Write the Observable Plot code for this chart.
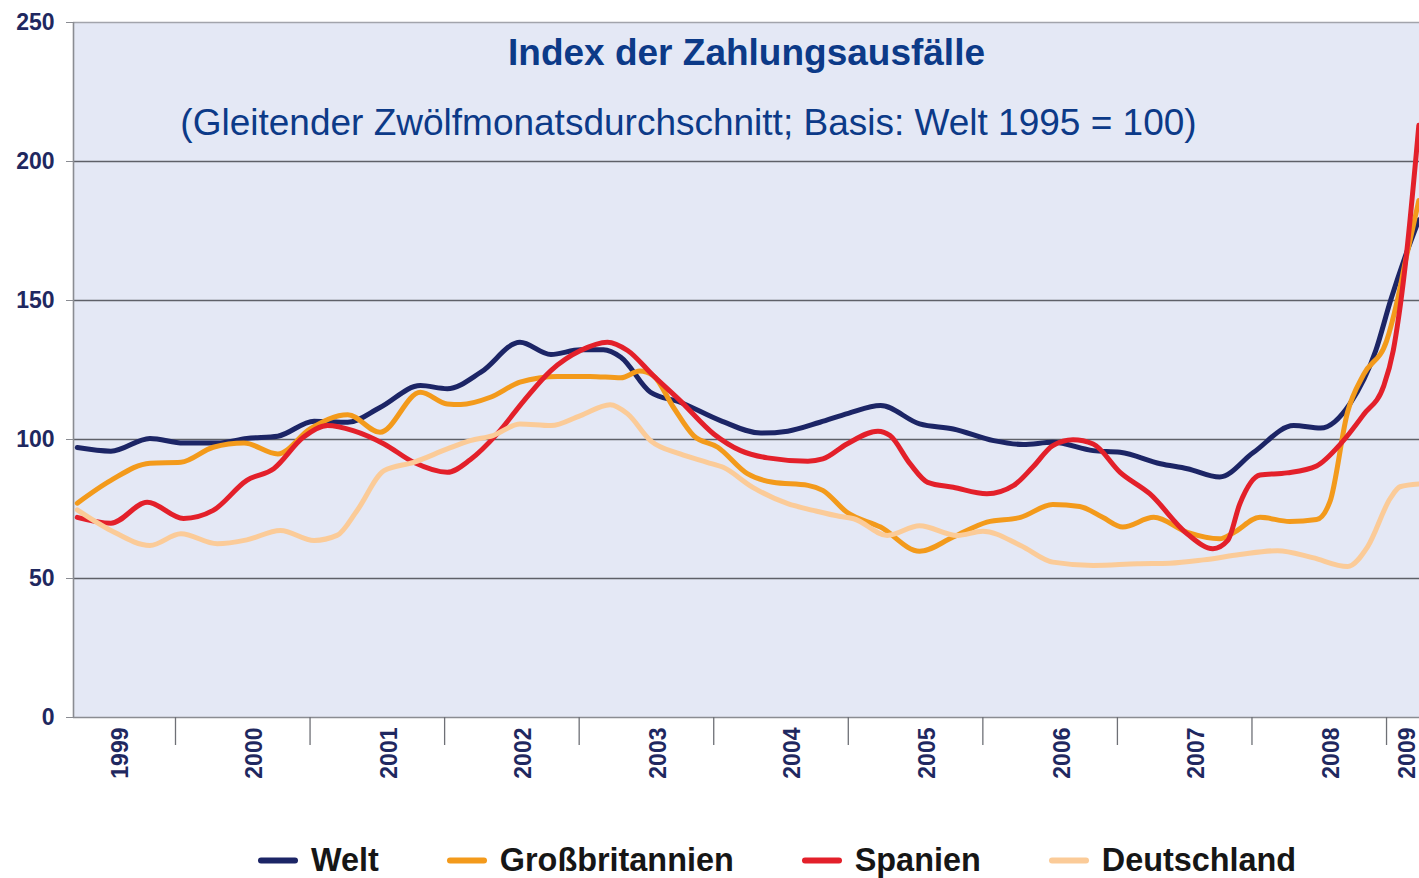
<!DOCTYPE html>
<html>
<head>
<meta charset="utf-8">
<script src="https://cdn.jsdelivr.net/npm/d3@7"></script>
<script src="https://cdn.jsdelivr.net/npm/@observablehq/plot@0.6"></script>
<style>
  html, body { margin: 0; padding: 0; background: #ffffff; }
  #chart { width: 1419px; }
  #legend { position: relative; width: 1419px; height: 78px; font-family: "Liberation Sans", Arial, sans-serif; }
  #legend .items { position: absolute; left: 258px; top: 60px; transform: translateY(-50%); display: flex; gap: 68px; }
  #legend .item { display: flex; align-items: center; gap: 13px; font-weight: bold; font-size: 32.4px; color: #161616; white-space: nowrap; }
  #legend .sw { width: 40px; height: 6px; border-radius: 3px; }
</style>
</head>
<body>
<div id="chart"></div>
<div id="legend"><div class="items"></div></div>
<script>
// ---- Data (decimal year, index value) ----
const welt = [[1999.27,97.1],[1999.52,95.8],[1999.81,100.4],[2000.06,98.7],[2000.31,98.7],[2000.53,100.4],[2000.76,101.2],[2001.03,106.6],[2001.28,106.2],[2001.52,111.5],[2001.82,119.4],[2002.02,118.3],[2002.27,124.2],[2002.56,135],[2002.79,130.6],[2003.01,132.3],[2003.18,132.3],[2003.31,129.6],[2003.53,117],[2003.75,113.4],[2004.05,106.8],[2004.35,102.3],[2004.55,103],[2004.79,106.2],[2005.00,109.4],[2005.24,112.2],[2005.53,105.6],[2005.78,103.8],[2006.08,99.6],[2006.30,98.2],[2006.52,99],[2006.82,96],[2007.02,95.4],[2007.32,91.3],[2007.52,89.5],[2007.76,86.5],[2008.01,95.3],[2008.31,105],[2008.51,104.1],[2008.73,113],[2008.92,132],[2009.03,150],[2009.14,166],[2009.24,179]];
const grossbritannien = [[1999.27,77.1],[1999.52,85.3],[1999.81,91.5],[2000.04,91.8],[2000.28,97.2],[2000.51,98.7],[2000.76,94.8],[2001.00,103.8],[2001.28,108.9],[2001.52,102.6],[2001.82,117],[2002.02,112.8],[2002.12,112.6],[2002.34,115.2],[2002.56,120.6],[2002.84,122.7],[2003.08,122.7],[2003.31,122.2],[2003.45,124.6],[2003.55,123],[2003.70,111.6],[2003.85,101.4],[2004.03,97.2],[2004.25,87.7],[2004.44,84.6],[2004.70,83.5],[2004.81,81.7],[2004.99,73.8],[2005.24,68.5],[2005.53,59.8],[2005.78,64.9],[2006.03,70.3],[2006.28,72],[2006.52,76.6],[2006.72,75.9],[2006.89,72],[2007.04,68.5],[2007.27,72],[2007.52,66.6],[2007.76,64.3],[2007.86,66.4],[2008.06,72],[2008.28,70.5],[2008.48,71.2],[2008.58,77.7],[2008.71,109.8],[2008.83,123.4],[2009.00,135.4],[2009.08,150],[2009.14,164],[2009.24,186]];
const spanien = [[1999.27,72],[1999.52,69.9],[1999.79,77.4],[2000.06,71.6],[2000.28,74.5],[2000.53,85.3],[2000.73,89.5],[2000.95,100.8],[2001.13,105],[2001.32,103.2],[2001.55,98.4],[2001.77,91.8],[2002.02,88.2],[2002.19,92.7],[2002.39,102],[2002.59,114],[2002.79,124.8],[2003.01,132],[2003.21,135],[2003.36,132],[2003.55,123],[2003.75,114],[2004.00,102],[2004.20,96],[2004.40,93.4],[2004.70,92.2],[2004.81,93],[2004.99,98.4],[2005.22,103],[2005.31,101.4],[2005.46,91.2],[2005.59,84.6],[2005.78,82.8],[2006.03,80.5],[2006.23,83.5],[2006.37,90],[2006.52,97.8],[2006.67,99.9],[2006.82,98.4],[2007.02,88.2],[2007.24,80.5],[2007.52,66],[2007.71,60.7],[2007.82,63.7],[2007.91,76.9],[2008.06,87.2],[2008.26,88],[2008.48,90.5],[2008.66,98.5],[2008.83,109],[2008.98,119.4],[2009.05,132],[2009.09,144],[2009.14,163],[2009.24,213]];
const deutschland = [[1999.27,74.7],[1999.52,67.3],[1999.81,61.9],[2000.04,66.1],[2000.31,62.5],[2000.53,63.9],[2000.78,67.3],[2001.03,63.7],[2001.20,65.5],[2001.35,74.5],[2001.55,88.8],[2001.77,91.8],[2002.02,96.6],[2002.19,99.6],[2002.36,101.4],[2002.56,105.6],[2002.79,105],[2003.01,108.6],[2003.23,112.5],[2003.36,109.2],[2003.53,99.6],[2003.75,94.8],[2003.95,91.8],[2004.07,90],[2004.29,82.8],[2004.55,76.9],[2004.74,74.5],[2004.94,72.3],[2005.04,71.5],[2005.29,65.5],[2005.53,69],[2005.81,65.5],[2006.00,67],[2006.28,61.9],[2006.52,55.9],[2006.82,54.7],[2007.15,55.3],[2007.39,55.5],[2007.64,56.7],[2007.91,58.6],[2008.19,60],[2008.45,57.5],[2008.71,54.3],[2008.86,61.5],[2009.03,79],[2009.10,83],[2009.24,84]];

const seriesNames = ["Welt", "Großbritannien", "Spanien", "Deutschland"];
const seriesValues = [welt, grossbritannien, spanien, deutschland];
const seriesColors = ["#1c2566", "#f39a1b", "#e3202a", "#fbcb98"];

const yTicks = [0, 50, 100, 150, 200, 250];
const yearTicks = [2000, 2001, 2002, 2003, 2004, 2005, 2006, 2007, 2008, 2009];
const yearLabels = ["1999", "2000", "2001", "2002", "2003", "2004", "2005", "2006", "2007", "2008", "2009"];

const titleText = "Index der Zahlungsausfälle";
const subtitleText = "(Gleitender Zwölfmonatsdurchschnitt; Basis: Welt 1995 = 100)";

// ---- Build table ----
const rows = seriesNames.flatMap((name, i) =>
  seriesValues[i].map(([t, v]) => ({series: name, t, v}))
);
const xDomain = [1999.242, 2009.245];
const labelPos = (label) => Math.min(+label + 0.59, xDomain[1] - 0.09);

const font = '"Liberation Sans", Arial, Helvetica, sans-serif';
const navy = "#1f2860";

const chart = Plot.plot({
  width: 1419,
  height: 800,
  marginLeft: 73,
  marginRight: 0,
  marginTop: 22,
  marginBottom: 83,
  style: {fontFamily: font, background: "#ffffff", overflow: "visible"},
  x: {type: "linear", domain: xDomain, axis: null},
  y: {domain: [0, 250], axis: null},
  color: {domain: seriesNames, range: seriesColors},
  marks: [
    Plot.frame({fill: "#e4e8f5", stroke: "none"}),
    Plot.ruleY(yTicks.filter(d => d > 0 && d < 250), {stroke: "#5e6068", strokeWidth: 1.4}),
    Plot.ruleY([250], {stroke: "#a2a4ac", strokeWidth: 1.4}),
    Plot.ruleY([0], {stroke: "#8a8c92", strokeWidth: 1.6}),
    Plot.ruleX([xDomain[0]], {stroke: "#8a8c92", strokeWidth: 1.6}),
    Plot.axisY({ticks: yTicks, tickSize: 7, tickPadding: 12, fontSize: 23, fontWeight: "bold", fill: navy, stroke: "#8a8c92", label: null}),
    Plot.axisX({ticks: yearTicks, tickSize: 28, tickFormat: () => "", stroke: "#6e7076", strokeWidth: 1.3, label: null}),
    Plot.text(yearLabels, {
      x: labelPos, text: d => d, frameAnchor: "bottom", rotate: -90,
      textAnchor: "end", lineAnchor: "middle", dy: 10,
      fontSize: 23, fontWeight: "bold", fill: navy
    }),
    Plot.line(rows, {
      x: "t", y: "v", z: "series", stroke: "series",
      strokeWidth: 5, curve: "monotone-x", strokeLinecap: "round", strokeLinejoin: "round"
    }),
    Plot.text([titleText], {
      text: d => d, frameAnchor: "top", lineAnchor: "top", dy: 16,
      fontSize: 37, fontWeight: "bold", fill: "#0c3a88"
    }),
    Plot.text([subtitleText], {
      text: d => d, frameAnchor: "top", lineAnchor: "top", dx: -58, dy: 86,
      fontSize: 37, fill: "#0c3a88"
    })
  ]
});
document.getElementById("chart").appendChild(chart);

// ---- Legend ----
const items = document.querySelector("#legend .items");
seriesNames.forEach((name, i) => {
  const it = document.createElement("div");
  it.className = "item";
  const sw = document.createElement("span");
  sw.className = "sw";
  sw.style.background = seriesColors[i];
  const tx = document.createElement("span");
  tx.textContent = name;
  it.appendChild(sw);
  it.appendChild(tx);
  items.appendChild(it);
});
</script>
</body>
</html>
